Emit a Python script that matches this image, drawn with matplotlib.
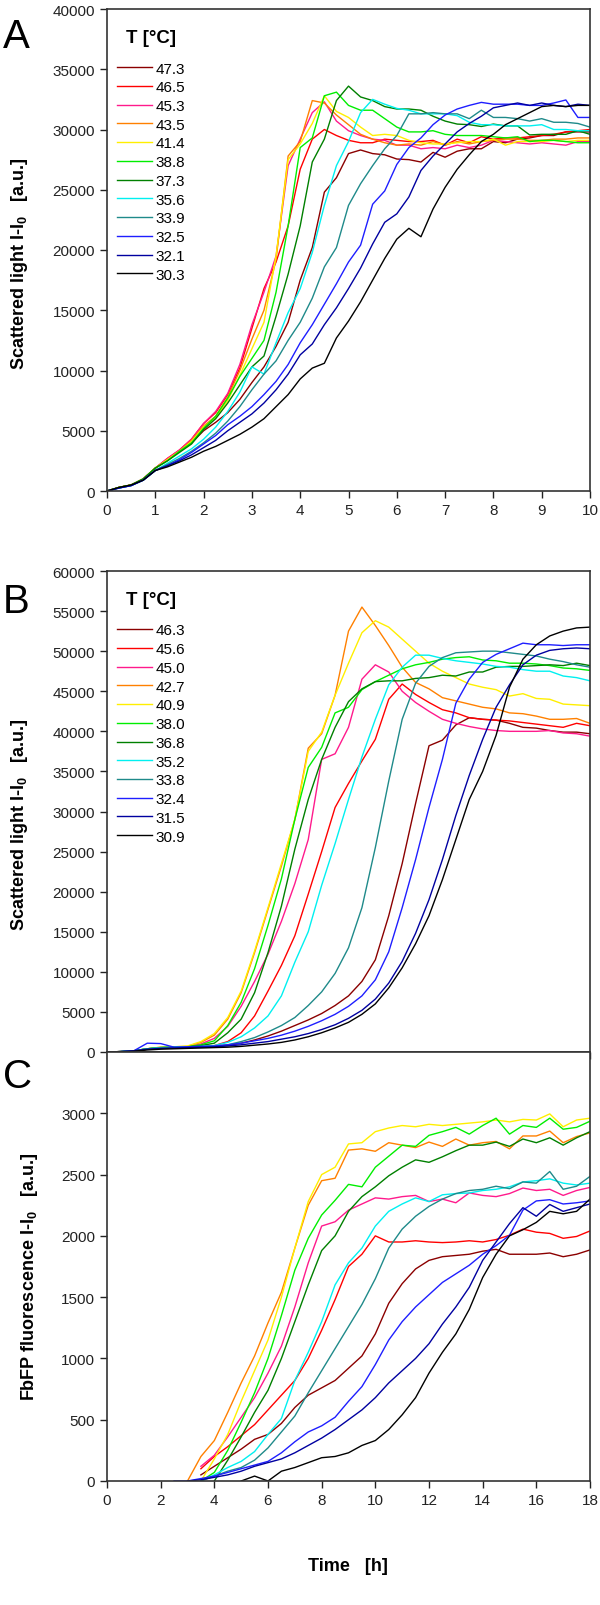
import numpy as np
import matplotlib
matplotlib.use("Agg")
import matplotlib.pyplot as plt

plt.rcParams["font.family"] = "Liberation Sans"
plt.rcParams["mathtext.fontset"] = "custom"
plt.rcParams["mathtext.rm"] = "Liberation Sans"
plt.rcParams["mathtext.bf"] = "Liberation Sans:bold"

COLORS = ["#8B0000", "#FF0000", "#FF1A8C", "#FF8000", "#FFEF00", "#00EE00",
          "#008000", "#00F0F0", "#1F8A8A", "#1E1EFF", "#0000A0", "#000000"]

# ---- panel A: scattered light, 0-10 h
TIME_A = np.arange(0, 10.01, 0.25)
TEMPS_A = ["47.3", "46.5", "45.3", "43.5", "41.4", "38.8", "37.3", "35.6", "33.9", "32.5", "32.1", "30.3"]
A_47_3 = [0, 300, 500, 1000, 1900, 2600, 3300, 4000, 5000, 5700, 6500, 7600, 9000, 10300, 12000, 14000, 17500, 20200, 24800, 26000, 28000, 28300, 28000, 27900, 27550, 27500, 27300, 28100, 27700, 28200, 28400, 28400, 29000, 28900, 29200, 29300, 29500, 29500, 29800, 29800, 29800]
A_46_5 = [0, 300, 500, 1000, 1900, 2700, 3400, 4300, 5600, 6500, 8000, 10200, 13500, 16800, 19000, 22000, 26700, 29200, 30000, 29500, 29100, 28900, 28900, 29200, 29100, 29000, 29000, 29100, 28700, 29200, 28900, 29400, 29200, 29300, 29300, 29400, 29500, 29600, 29800, 29900, 30000]
A_45_3 = [0, 300, 500, 1000, 1900, 2700, 3400, 4300, 5600, 6600, 8100, 10500, 13800, 16500, 19500, 27000, 29200, 31400, 32300, 30700, 29900, 29500, 29200, 29100, 28700, 28700, 28400, 28500, 28400, 28700, 28500, 28700, 29100, 29000, 28900, 28800, 28900, 28800, 28700, 29000, 29000]
A_43_5 = [0, 300, 500, 1000, 1900, 2600, 3300, 4200, 5400, 6200, 7800, 10000, 12600, 15000, 19200, 27800, 29000, 32400, 32200, 31200, 30400, 29600, 29200, 28900, 28700, 28800, 28700, 29000, 28700, 29000, 28800, 29000, 29100, 29200, 29200, 29100, 29100, 29200, 29200, 29300, 29300]
A_41_4 = [0, 300, 500, 1000, 1900, 2600, 3300, 4100, 5300, 6100, 7500, 9600, 11800, 14000, 19500, 27500, 28800, 30500, 32800, 31500, 31000, 30200, 29500, 29600, 29500, 29100, 28900, 28800, 28800, 28900, 29000, 29000, 29200, 28700, 29000, 29000, 29000, 29100, 29000, 29100, 29100]
A_38_8 = [0, 300, 500, 1000, 1900, 2500, 3300, 4000, 5200, 6200, 7700, 9500, 11000, 12500, 16500, 22000, 28500, 29300, 32800, 33100, 32000, 31600, 31600, 30900, 30200, 29800, 29800, 29900, 29600, 29500, 29500, 29500, 29400, 29300, 29400, 29000, 29100, 29100, 29000, 28900, 28900]
A_37_3 = [0, 300, 500, 1000, 1900, 2500, 3200, 3900, 5100, 6000, 7300, 8800, 10300, 11200, 14500, 18000, 22000, 27300, 29200, 32400, 33600, 32700, 32400, 31900, 31700, 31700, 31600, 31100, 30700, 30450, 30400, 30250, 30450, 30300, 30300, 29550, 29600, 29600, 29600, 29900, 29600]
A_35_6 = [0, 250, 450, 900, 1700, 2300, 2900, 3500, 4300, 5300, 6600, 8200, 10300, 9700, 12300, 14800, 16800, 19800, 23700, 27000, 29000, 31400, 32500, 32100, 31750, 31600, 31300, 31300, 31300, 31150, 30600, 30400, 30400, 30300, 30300, 30300, 30400, 30000, 30000, 29900, 29900]
A_33_9 = [0, 250, 450, 900, 1700, 2200, 2700, 3300, 4000, 4800, 5800, 7000, 8400, 9700, 10800, 12500, 14000, 16000, 18600, 20200, 23700, 25500, 27000, 28400, 29500, 31300, 31300, 31400, 31300, 31300, 30900, 31600, 31000, 31000, 30900, 30700, 30900, 30600, 30600, 30500, 30200]
A_32_5 = [0, 250, 450, 900, 1700, 2100, 2600, 3200, 3900, 4600, 5500, 6200, 7000, 8000, 9100, 10500, 12300, 13800, 15500, 17200, 19000, 20400, 23800, 24900, 27100, 28500, 29300, 30400, 31200, 31700, 32000, 32250, 32100, 32100, 32100, 32000, 32000, 32200, 32450, 31000, 31000]
A_32_1 = [0, 250, 450, 900, 1700, 2100, 2500, 3000, 3600, 4200, 5000, 5700, 6400, 7300, 8400, 9700, 11300, 12200, 13800, 15200, 16800, 18500, 20500, 22300, 23000, 24400, 26600, 27800, 28800, 29800, 30500, 31100, 31800, 32000, 32200, 32000, 32200, 32000, 31900, 32100, 32000]
A_30_3 = [0, 300, 500, 900, 1700, 2000, 2400, 2800, 3300, 3700, 4200, 4700, 5300, 6000, 7000, 8000, 9300, 10200, 10600, 12700, 14100, 15700, 17500, 19300, 20900, 21800, 21100, 23400, 25200, 26700, 27900, 29000, 29600, 30400, 30900, 31400, 31900, 32000, 31900, 32000, 32000]
SERIES_A = [A_47_3, A_46_5, A_45_3, A_43_5, A_41_4, A_38_8, A_37_3, A_35_6, A_33_9, A_32_5, A_32_1, A_30_3]

# ---- panel B: scattered light, 0-18 h
TIME_B = np.arange(0, 18.01, 0.5)
TEMPS_B = ["46.3", "45.6", "45.0", "42.7", "40.9", "38.0", "36.8", "35.2", "33.8", "32.4", "31.5", "30.9"]
B_46_3 = [0, 50, 150, 350, 500, 550, 600, 650, 700, 850, 1100, 1500, 2000, 2600, 3300, 4000, 4800, 5800, 7000, 8800, 11500, 17000, 23500, 31000, 38200, 38900, 40800, 41700, 41500, 41400, 41000, 40500, 40400, 40100, 39900, 39900, 39700]
B_45_6 = [0, 50, 150, 350, 500, 550, 600, 650, 800, 1300, 2400, 4500, 7600, 10800, 14500, 19700, 25000, 30500, 33500, 36300, 39000, 44000, 45900, 44600, 43600, 42700, 42300, 41700, 41500, 41400, 41300, 41100, 40900, 40700, 40500, 41000, 40700]
B_45_0 = [0, 50, 150, 400, 550, 600, 650, 1000, 1700, 3200, 5700, 8800, 12200, 16300, 21000, 26500, 36500, 37200, 40500, 46500, 48300, 47400, 45000, 43600, 42500, 41500, 41000, 40600, 40300, 40100, 40000, 40000, 40000, 40100, 39800, 39700, 39400]
B_42_7 = [0, 50, 150, 400, 600, 650, 700, 1200, 2100, 4100, 7400, 12400, 17800, 23200, 29000, 37900, 39700, 44500, 52500, 55500, 53200, 50700, 48000, 46100, 45300, 44200, 43800, 43400, 43000, 42800, 42300, 42200, 41900, 41500, 41500, 41600, 41000]
B_40_9 = [0, 50, 150, 400, 600, 650, 750, 1300, 2300, 4300, 7600, 12600, 18000, 23500, 29000, 37500, 39900, 44500, 48500, 52300, 53800, 53000, 51500, 50000, 48500, 47500, 46700, 45900, 45500, 45200, 44400, 44700, 44100, 44000, 43400, 43300, 43200]
B_38_0 = [0, 50, 150, 400, 550, 600, 650, 900, 1400, 3300, 6200, 10400, 15800, 21600, 29000, 35500, 38000, 42300, 43000, 45200, 46200, 47000, 47800, 48300, 48600, 49000, 49200, 49300, 48900, 48800, 48500, 48500, 48400, 48200, 47900, 47800, 47600]
B_36_8 = [0, 50, 150, 400, 550, 600, 650, 800, 1100, 2400, 4100, 7400, 12400, 18200, 25300, 31500, 36500, 40500, 43700, 45300, 46200, 46300, 46300, 46600, 46700, 47000, 46900, 47400, 47400, 48000, 48100, 48100, 48200, 48300, 48200, 48500, 48200]
B_35_2 = [0, 50, 150, 400, 550, 600, 650, 700, 800, 1200, 1900, 3000, 4500, 7000, 11200, 15000, 20800, 26000, 31500, 36800, 41500, 45800, 48000, 49500, 49500, 49100, 48800, 48600, 48400, 48100, 48000, 47700, 47500, 47500, 46900, 46700, 46300]
B_33_8 = [0, 50, 150, 400, 500, 550, 600, 650, 700, 900, 1300, 1800, 2500, 3300, 4300, 5800, 7500, 9800, 13000, 18000, 25500, 33800, 41500, 46000, 48100, 49200, 49800, 49900, 50000, 50000, 49800, 49600, 49400, 49000, 48700, 48300, 48000]
B_32_4 = [0, 50, 150, 1100, 1050, 600, 650, 700, 750, 900, 1100, 1400, 1700, 2100, 2600, 3200, 3900, 4700, 5700, 7000, 9000, 12500, 18000, 24000, 30500, 36500, 43500, 46500, 48600, 49600, 50300, 51000, 50800, 50800, 50700, 50800, 50800]
B_31_5 = [0, 50, 150, 350, 450, 500, 550, 600, 650, 750, 900, 1100, 1300, 1600, 1900, 2300, 2800, 3400, 4200, 5200, 6600, 8600, 11300, 14800, 19000, 24000, 29500, 34500, 39000, 43000, 45800, 48300, 49500, 50100, 50300, 50400, 50300]
B_30_9 = [0, 30, 100, 250, 350, 400, 450, 500, 550, 600, 700, 850, 1000, 1200, 1500, 1900, 2400, 3000, 3700, 4700, 6000, 8000, 10500, 13500, 17000, 21500, 26500, 31500, 35000, 39500, 45500, 49000, 50800, 51900, 52500, 52900, 53000]
SERIES_B = [B_46_3, B_45_6, B_45_0, B_42_7, B_40_9, B_38_0, B_36_8, B_35_2, B_33_8, B_32_4, B_31_5, B_30_9]

# ---- panel C: FbFP fluorescence, same cultures as B (nan = not yet above zero)
na = np.nan
C_46_3 = [na] * 7 + [50, 120, 190, 260, 340, 380, 470, 600, 700, 760, 820, 920, 1020, 1200, 1450, 1610, 1730, 1800, 1830, 1840, 1850, 1875, 1890, 1850, 1850, 1850, 1860, 1830, 1850, 1885]
C_45_6 = [na] * 7 + [100, 200, 280, 370, 460, 580, 700, 820, 1000, 1230, 1480, 1750, 1850, 2000, 1950, 1950, 1960, 1950, 1945, 1950, 1960, 1950, 1970, 2005, 2055, 2030, 2020, 1980, 1995, 2040]
C_45_0 = [na] * 7 + [120, 210, 360, 520, 680, 880, 1100, 1420, 1780, 2080, 2115, 2210, 2260, 2310, 2300, 2320, 2330, 2280, 2300, 2270, 2350, 2330, 2320, 2345, 2390, 2370, 2380, 2330, 2370, 2395]
C_42_7 = [na] * 6 + [0, 200, 330, 560, 800, 1020, 1290, 1540, 1900, 2250, 2450, 2470, 2700, 2710, 2690, 2760, 2740, 2720, 2765, 2730, 2790, 2740, 2760, 2770, 2710, 2815, 2815, 2855, 2760, 2810, 2840]
C_40_9 = [na] * 7 + [0, 180, 380, 650, 900, 1150, 1500, 1900, 2280, 2500, 2560, 2750, 2760, 2850, 2880, 2900, 2890, 2910, 2900, 2910, 2920, 2930, 2945, 2930, 2950, 2945, 2995, 2890, 2945, 2960]
C_38_0 = [na] * 7 + [0, 70, 250, 480, 720, 1000, 1350, 1720, 1980, 2170, 2290, 2420, 2400, 2560, 2650, 2740, 2730, 2820, 2850, 2885, 2830, 2900, 2960, 2830, 2900, 2885, 2960, 2870, 2885, 2935]
C_36_8 = [na] * 8 + [0, 170, 360, 560, 740, 1000, 1300, 1600, 1880, 2000, 2200, 2320, 2400, 2490, 2560, 2620, 2600, 2645, 2695, 2740, 2740, 2765, 2730, 2790, 2760, 2800, 2740, 2800, 2850]
C_35_2 = [na] * 7 + [0, 50, 110, 160, 240, 380, 510, 820, 1050, 1300, 1600, 1780, 1900, 2080, 2200, 2260, 2310, 2280, 2335, 2345, 2350, 2370, 2380, 2400, 2440, 2450, 2465, 2430, 2415, 2430]
C_33_8 = [na] * 7 + [0, 40, 80, 110, 170, 270, 400, 530, 720, 900, 1080, 1260, 1440, 1650, 1900, 2055, 2160, 2240, 2300, 2345, 2370, 2380, 2405, 2385, 2440, 2430, 2525, 2380, 2405, 2485]
C_32_4 = [na] * 5 + [0, 0, 20, 40, 70, 100, 130, 160, 230, 320, 400, 450, 520, 650, 770, 950, 1150, 1300, 1420, 1520, 1620, 1690, 1760, 1850, 1920, 2005, 2210, 2285, 2295, 2260, 2270, 2285]
C_31_5 = [na] * 6 + [0, 10, 30, 50, 80, 120, 150, 180, 230, 290, 350, 420, 500, 580, 680, 800, 900, 1000, 1120, 1280, 1420, 1580, 1800, 1950, 2100, 2230, 2160, 2256, 2200, 2230, 2260]
C_30_9 = [na] * 10 + [0, 40, 0, 80, 110, 150, 190, 200, 230, 290, 330, 420, 540, 680, 880, 1050, 1200, 1400, 1660, 1850, 2000, 2050, 2110, 2200, 2180, 2200, 2300]
SERIES_C = [C_46_3, C_45_6, C_45_0, C_42_7, C_40_9, C_38_0, C_36_8, C_35_2, C_33_8, C_32_4, C_31_5, C_30_9]

W, H = 600, 1606
fig = plt.figure(figsize=(W / 100, H / 100), dpi=100)


def box(left, top, right, bottom):
    return [left / W, 1 - bottom / H, (right - left) / W, (bottom - top) / H]


ax_a = fig.add_axes(box(107, 10, 590, 492))
ax_b = fig.add_axes(box(107, 572, 590, 1053))
ax_c = fig.add_axes(box(107, 1053, 590, 1482))


def style(ax):
    for s in ax.spines.values():
        s.set_color("#333333")
        s.set_linewidth(1.2)
    ax.tick_params(direction="out", length=5, width=1, labelsize=11, colors="#222222",
                   top=False, right=False)


def legend(ax, temps):
    leg = ax.legend(temps, title="T [°C]", loc="upper left", bbox_to_anchor=(0.02, 0.958),
                    frameon=False, fontsize=11, handlelength=2.3, handletextpad=0.25,
                    labelspacing=0.31, borderpad=0, borderaxespad=0,
                    title_fontproperties={"weight": "bold", "size": 13.5})
    leg._legend_box.sep = 11


for ax, t, series in [(ax_a, TIME_A, SERIES_A), (ax_b, TIME_B, SERIES_B), (ax_c, TIME_B, SERIES_C)]:
    for vals, col in zip(series, COLORS):
        ax.plot(t, vals, color=col, lw=1.0)
    style(ax)

ax_a.set_xlim(0, 10)
ax_a.set_ylim(0, 40000)
ax_a.set_xticks(range(0, 11))
ax_a.set_yticks(range(0, 40001, 5000))
legend(ax_a, TEMPS_A)

ax_b.set_xlim(0, 18)
ax_b.set_ylim(0, 60000)
ax_b.set_xticks(range(0, 19, 2))
ax_b.tick_params(axis="x", labelbottom=False)
ax_b.set_yticks(range(0, 60001, 5000))
legend(ax_b, TEMPS_B)

ax_c.set_xlim(0, 18)
ax_c.set_ylim(0, 3500)
ax_c.set_xticks(range(0, 19, 2))
ax_c.set_yticks(range(0, 3001, 500))

ylab = r"Scattered light I-I$_\mathbf{0}$   [a.u.]"
fig.text(20 / W, 1 - 264 / H, ylab, rotation=90, ha="center", va="center", fontsize=13, fontweight="bold")
fig.text(20 / W, 1 - 825 / H, ylab, rotation=90, ha="center", va="center", fontsize=13, fontweight="bold")
fig.text(30 / W, 1 - 1277 / H, r"FbFP fluorescence I-I$_\mathbf{0}$   [a.u.]", rotation=90,
         ha="center", va="center", fontsize=13, fontweight="bold")
fig.text(348 / W, 1 - 1567 / H, "Time   [h]", ha="center", va="center", fontsize=13, fontweight="bold")

for letter, y in [("A", 48), ("B", 613), ("C", 1088)]:
    fig.text(3 / W, 1 - y / H, letter, fontsize=29, ha="left", va="baseline")

fig.savefig("out.png", dpi=100)
